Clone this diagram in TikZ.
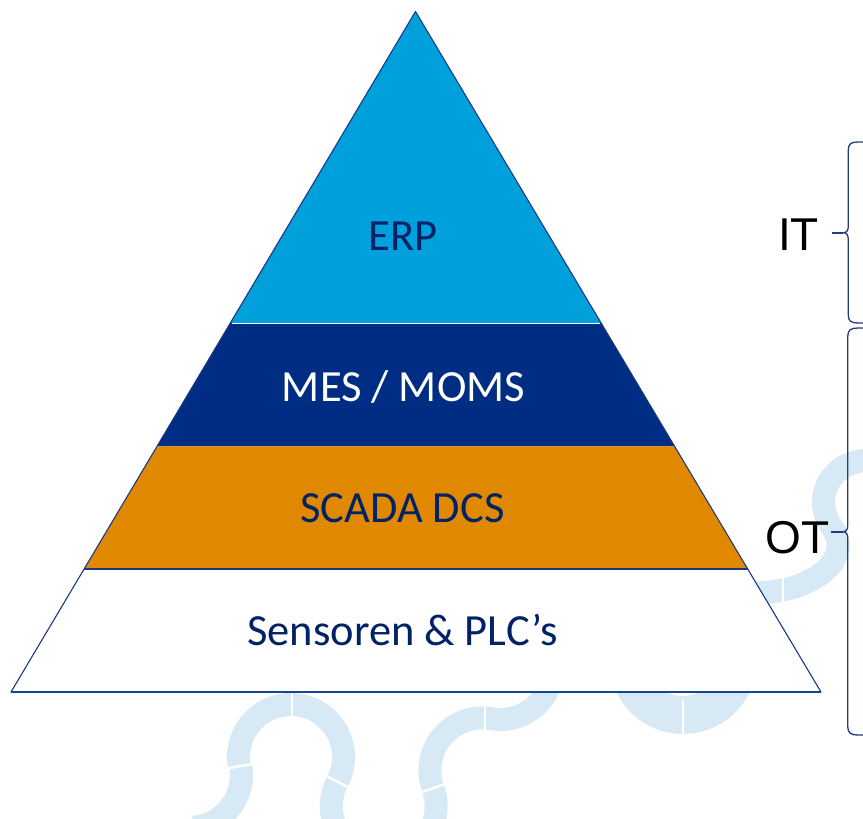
\documentclass[tikz,border=0pt]{standalone}
\usepackage{fontspec}
\usetikzlibrary{calc}
\newfontfamily\calib{Carlito}
\newfontfamily\arialf{Liberation Sans}
\definecolor{wm}{RGB}{214,233,244}
\definecolor{erpc}{RGB}{0,160,220}
\definecolor{mesc}{RGB}{0,45,132}
\definecolor{scadac}{RGB}{224,137,0}
\definecolor{navytxt}{RGB}{0,34,102}
\definecolor{edgec}{RGB}{28,56,130}
\definecolor{basec}{RGB}{20,70,150}
\definecolor{bracec}{RGB}{38,58,128}
\begin{document}
\begin{tikzpicture}[x=1pt,y=-1pt,
  wmline/.style={draw=wm, line width=23pt},
  wmthick/.style={draw=wm, line width=38pt},
  gapline/.style={draw=white, line width=2.5pt},
  edge/.style={draw=edgec, line width=1.1pt, line join=round},
  lbl/.style={inner sep=0pt, anchor=base, font=\calib\fontsize{44.5}{50}\selectfont},
  side/.style={inner sep=0pt, anchor=base, text=black, font=\arialf\fontsize{46}{52}\selectfont},
  bracel/.style={draw=bracec, line width=1.3pt},
  bracetip/.style={draw=bracec, line width=2.2pt}]
\useasboundingbox (0,0) rectangle (863,819);
% ---------- watermark ----------
% right S
\draw[wmline] plot[smooth] coordinates {(880,458) (860,461) (843,467) (830,480) (824,495) (824,508) (828,521) (836,534) (838,548) (832,563) (818,576) (795,587) (770,592) (740,594)};
\draw[gapline] (783,576) -- (783,608);
% bottom-left chain
\draw[wmline] (189,775) ++(-10:52.5) arc[start angle=-10, end angle=85, radius=52.5];
\draw[wmline] (291,757) ++(-190:52.5) arc[start angle=-190, end angle=28, radius=52.5]
  arc[start angle=208, end angle=-20, radius=52.5]
  arc[start angle=160, end angle=280, radius=52.5]
  arc[start angle=100, end angle=0, radius=52.5];
\draw[gapline] (252,764) -- (227,768.5);
\draw[gapline] (292,688) -- (292,719);
\draw[gapline] (325.5,775.4) -- (349.5,788);
\draw[gapline] (420,793) -- (446,783.5);
\draw[gapline] (485,700) -- (485,733);
% middle ring bottom
\draw[wmthick] (683,660) ++(15:55) arc[start angle=15, end angle=165, radius=55];
\draw[gapline] (683,700) -- (683,740);
% ---------- pyramid ----------
\coordinate (apex) at (415.5,11.5);
\coordinate (bl) at (11,692);
\coordinate (br) at (821,692);
\coordinate (l1) at ($(apex)!0.4578!(bl)$);
\coordinate (r1) at ($(apex)!0.4578!(br)$);
\coordinate (l2) at ($(apex)!0.6392!(bl)$);
\coordinate (r2) at ($(apex)!0.6392!(br)$);
\coordinate (l3) at ($(apex)!0.8192!(bl)$);
\coordinate (r3) at ($(apex)!0.8192!(br)$);
\fill[erpc] (apex) -- (l1) -- (r1) -- cycle;
\fill[mesc] (l1) -- (l2) -- (r2) -- (r1) -- cycle;
\fill[scadac] (l2) -- (l3) -- (r3) -- (r2) -- cycle;
\fill[white] (l3) -- (bl) -- (br) -- (r3) -- cycle;
\draw[edge] (apex) -- (bl) -- (br) -- cycle;
\draw[edge] (l3) -- (r3);
\draw[white, line width=0.9pt] ($(l1)+(1.5,0)$) -- ($(r1)+(-1.5,0)$);
\draw[draw=basec, line width=2.6pt] (bl) -- (br);
% ---------- labels ----------
\node[lbl, text=navytxt] (erp) at (403,250) {ERP};
\node[lbl, text=white] (mes) at (403.5,401.5) {MES / MOMS};
\node[lbl, text=navytxt] (scada) at (402.5,522) {SCADA DCS};
\node[lbl, text=navytxt] (sens) at (402.5,645) {Sensoren \& PLC’s};
\node[side] (it) at (798.5,250) {IT};
\node[side] (ot) at (797.5,553) {OT};
% ---------- braces ----------
\draw[bracel] (866,142) -- (858,142) .. controls (851,142) and (848.3,144) .. (848.3,150)
  -- (848.3,226) .. controls (848.3,231) and (846.5,232.7) .. (843,232.7)
  .. controls (846.5,232.7) and (848.3,234.5) .. (848.3,240)
  -- (848.3,315) .. controls (848.3,321) and (851,323) .. (858,323) -- (866,323);
\draw[bracetip] (843,232.7) -- (832,232.7);
\draw[bracel] (866,328) -- (858,328) .. controls (851,328) and (847.8,330) .. (847.8,336)
  -- (847.8,525) .. controls (847.8,530) and (846,531.7) .. (842.5,531.7)
  .. controls (846,531.7) and (847.8,533.5) .. (847.8,539)
  -- (847.8,727) .. controls (847.8,733) and (851,735) .. (858,735) -- (866,735);
\draw[bracetip] (842.5,531.7) -- (830.5,531.7);
\end{tikzpicture}
\end{document}
